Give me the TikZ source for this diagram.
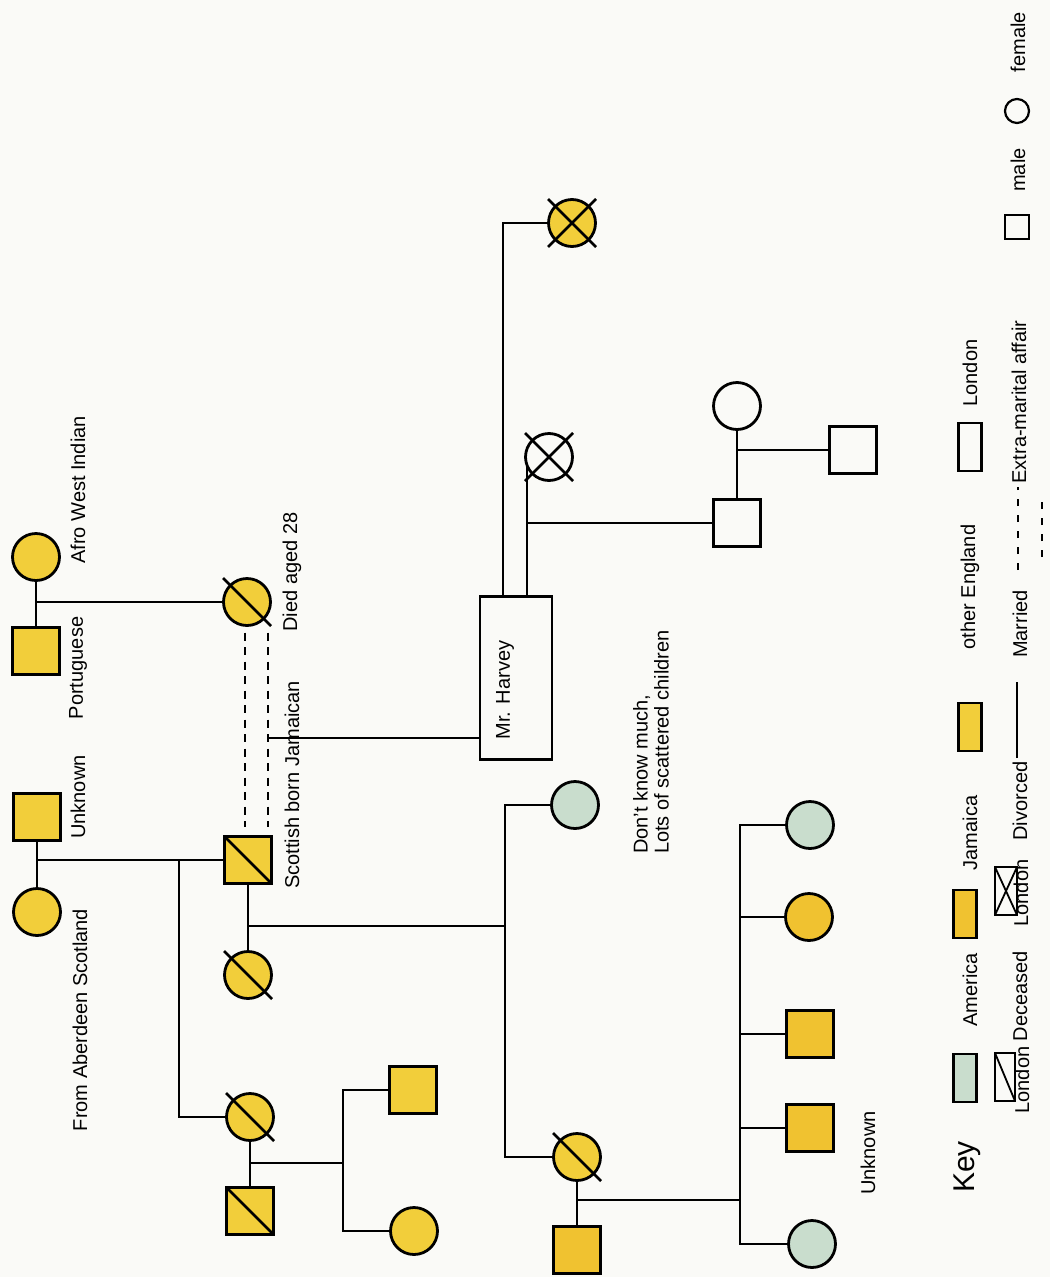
\documentclass[tikz,border=0pt]{standalone}
\usepackage{fontspec}
\setmainfont{Liberation Sans}
\usetikzlibrary{calc}
\pgfdeclarelayer{paperbg}
\pgfdeclarelayer{links}
\pgfsetlayers{paperbg,links,main}
\definecolor{paper}{RGB}{250,250,247}
\definecolor{jam}{RGB}{242,206,58}
\definecolor{jamdeep}{RGB}{240,194,48}
\definecolor{amer}{RGB}{201,221,205}
\tikzset{
  person/.style={draw=black, line width=2.8pt, minimum size=47pt, inner sep=0pt, outer sep=0pt},
  male/.style={person, rectangle},
  female/.style={person, circle},
  link/.style={line width=2.6pt, black},
  affair/.style={line width=2.4pt, dash pattern=on 8pt off 6.5pt},
  slash/.style={line width=2.8pt},
  lbl/.style={rotate=90, font=\fontsize{20}{21}\selectfont, inner sep=0pt},
  swatch/.style={draw=black, line width=2.2pt, minimum width=23pt, minimum height=48pt, inner sep=0pt, outer sep=0pt},
  keysym/.style={draw=black, line width=2.2pt, minimum size=24pt, inner sep=0pt, outer sep=0pt},
}
\begin{document}
\begin{tikzpicture}[x=1pt, y=-1pt]
\begin{pgfonlayer}{paperbg}
  \fill[paper] (0,0) rectangle (1050,1277);
\end{pgfonlayer}
\useasboundingbox (0,0) rectangle (1050,1277);

% ---------- grandparents ----------
\node[male, fill=jam] (gpU) at (37,817) {};
\node[female, fill=jam] (gpA) at (37,912) {};
\node[male, fill=jam] (pP) at (36,651) {};
\node[female, fill=jam] (pA) at (36,557) {};

\node[lbl] at (78,490) {Afro West Indian};
\node[lbl] at (78,668) {Portuguese};
\node[lbl] at (78,797) {Unknown};
\node[lbl] at (80,1020) {From Aberdeen Scotland};

% ---------- parents' generation ----------
\node[female, fill=jam] (dW) at (247,602) {};
\draw[slash] ($(dW)+(-24,-24)$) -- ($(dW)+(24,24)$);
\node[male, fill=jam] (sM) at (248,860) {};
\draw[slash] (sM.north west) -- (sM.south east);
\node[female, fill=jam] (sW) at (248,975) {};
\draw[slash] ($(sW)+(-24,-24)$) -- ($(sW)+(24,24)$);
\node[female, fill=jam] (sS) at (250,1117) {};
\draw[slash] ($(sS)+(-24,-24)$) -- ($(sS)+(24,24)$);
\node[male, fill=jam] (sH) at (250,1211) {};
\draw[slash] (sH.north west) -- (sH.south east);
\node[male, fill=jam] (k1) at (413,1090) {};
\node[female, fill=jam] (k2) at (414,1231) {};

\node[lbl] at (292,572) {Died aged 28};
\node[lbl] at (292,785) {Scottish born Jamaican};

% ---------- Mr. Harvey and his family ----------
\node[draw=black, line width=2.6pt, minimum width=72pt, minimum height=163pt, inner sep=0pt, outer sep=0pt, fill=paper] (mH) at (516,678) {};
\node[lbl] at (505,690) {Mr. Harvey};
\node[female, fill=jam] (yX) at (572,223) {};
\draw[slash] ($(yX)+(-24,-24)$) -- ($(yX)+(24,24)$);
\draw[slash] ($(yX)+(-24,24)$) -- ($(yX)+(24,-24)$);
\node[female, fill=paper] (wX) at (549,457) {};
\draw[slash] ($(wX)+(-24,-24)$) -- ($(wX)+(24,24)$);
\draw[slash] ($(wX)+(-24,24)$) -- ($(wX)+(24,-24)$);
\node[male, fill=paper] (wS) at (737,523) {};
\node[female, fill=paper] (wC) at (737,406) {};
\node[male, fill=paper] (cS) at (853,450) {};

% ---------- children of the Scottish couple ----------
\node[female, fill=amer] (gC) at (575,805) {};
\node[female, fill=jam] (dD) at (577,1157) {};
\draw[slash] ($(dD)+(-24,-24)$) -- ($(dD)+(24,24)$);
\node[male, fill=jamdeep] (hS) at (577,1250) {};
\node[lbl, align=left, anchor=west] at (651,854) {Don't know much,\\Lots of scattered children};

% ---------- youngest generation ----------
\node[female, fill=amer] (g1) at (810,825) {};
\node[female, fill=jamdeep] (y1) at (809,917) {};
\node[male, fill=jamdeep] (y2) at (810,1034) {};
\node[male, fill=jamdeep] (y3) at (810,1128) {};
\node[female, fill=amer] (g2) at (812,1244) {};
\node[lbl] at (868,1153) {Unknown};

% ---------- connectors ----------
\begin{pgfonlayer}{links}
  \draw[link] (gpU.south) -- (gpA.north);
  \coordinate (gpM) at (37,860);
  \coordinate (gpB) at (179,860);
  \draw[link] (gpM) -- (sM.west);
  \draw[link] (gpB) |- (sS.west);

  \draw[link] (pP.north) -- (pA.south);
  \coordinate (pM) at (36,602);
  \draw[link] (pM) -- (dW.west);

  \draw[affair] ([xshift=-2pt,yshift=-7pt]dW.south) -- ([xshift=-3pt,yshift=10pt]sM.north);
  \draw[affair] ([xshift=21pt,yshift=-7pt]dW.south) -- ([xshift=20pt,yshift=10pt]sM.north);
  \coordinate (afC) at (268,738);
  \draw[link] (afC) -- (afC -| mH.west);

  \draw[link] ([xshift=-13pt]mH.north) |- (yX.west);
  \draw[link] ([xshift=11pt]mH.north) -- ([xshift=11pt]mH.north |- wX);
  \coordinate (hvC) at (527,523);
  \draw[link] (hvC) -- (wS.west);
  \draw[link] (wS.north) -- (wC.south);
  \coordinate (wsC) at (737,450);
  \draw[link] (wsC) -- (cS.west);

  \draw[link] (sM.south) -- (sW.north);
  \coordinate (smC) at (248,926);
  \coordinate (smJ) at (505,926);
  \draw[link] (smC) -- (smJ);
  \draw[link] (gC.west) -| (smJ) |- (dD.west);

  \draw[link] (sS.south) -- (sH.north);
  \coordinate (ssC) at (250,1163);
  \coordinate (ssJ) at (343,1163);
  \draw[link] (ssC) -- (ssJ);
  \draw[link] (k1.west) -| (ssJ) |- (k2.west);

  \draw[link] (dD.south) -- (hS.north);
  \coordinate (ddC) at (577,1200);
  \coordinate (ddJ) at (740,1200);
  \draw[link] (ddC) -- (ddJ);
  \draw[link] (g1.west) -| (ddJ) |- (g2.west);
  \draw[link] (y1.west) -- (y1.west -| ddJ);
  \draw[link] (y2.west) -- (y2.west -| ddJ);
  \draw[link] (y3.west) -- (y3.west -| ddJ);
\end{pgfonlayer}

% ---------- key ----------
\node[lbl, font=\fontsize{30}{32}\selectfont] at (967,1167) {Key};
\node[swatch, fill=amer] (kA) at (965,1078) {};
\node[lbl] at (970,990) {America};
\node[swatch, fill=jamdeep] (kJ) at (965,914) {};
\node[lbl] at (970,833) {Jamaica};
\node[swatch, fill=jam] (kE) at (970,727) {};
\node[lbl] at (970,587) {other England};
\node[swatch, fill=paper] (kL) at (970,447) {};
\node[lbl] at (970,373) {London};

\node[draw=black, line width=2pt, minimum width=20pt, minimum height=48pt, inner sep=0pt, outer sep=0pt] (kD) at (1005,1077) {};
\draw[line width=1.8pt] (kD.north west) -- (kD.south east);
\node[lbl] at (1022,1080) {London};
\node[lbl] at (1020,996) {Deceased};
\node[draw=black, line width=2pt, minimum width=22pt, minimum height=48pt, inner sep=0pt, outer sep=0pt] (kV) at (1006,891) {};
\draw[line width=1.8pt] (kV.north west) -- (kV.south east);
\draw[line width=1.8pt] (kV.south west) -- (kV.north east);
\node[lbl] at (1021,893) {London};
\node[lbl] at (1020,801) {Divorced};
\coordinate (kmA) at (1017,758);
\coordinate (kmB) at (1017,682);
\draw[line width=2pt] (kmA) -- (kmB);
\node[lbl] at (1020,624) {Married};
\coordinate (keA) at (1018,570);
\coordinate (keB) at (1018,487);
\draw[line width=2pt, dash pattern=on 7pt off 9pt] (keA) -- (keB);
\coordinate (keC) at (1042,557);
\coordinate (keD) at (1042,497);
\draw[line width=2pt, dash pattern=on 7pt off 9pt] (keC) -- (keD);
\node[lbl] at (1019,402) {Extra-marital affair};
\node[keysym, rectangle] (kM) at (1017,227) {};
\node[lbl] at (1018,170) {male};
\node[keysym, circle] (kF) at (1017,111) {};
\node[lbl] at (1018,42) {female};
\end{tikzpicture}
\end{document}
